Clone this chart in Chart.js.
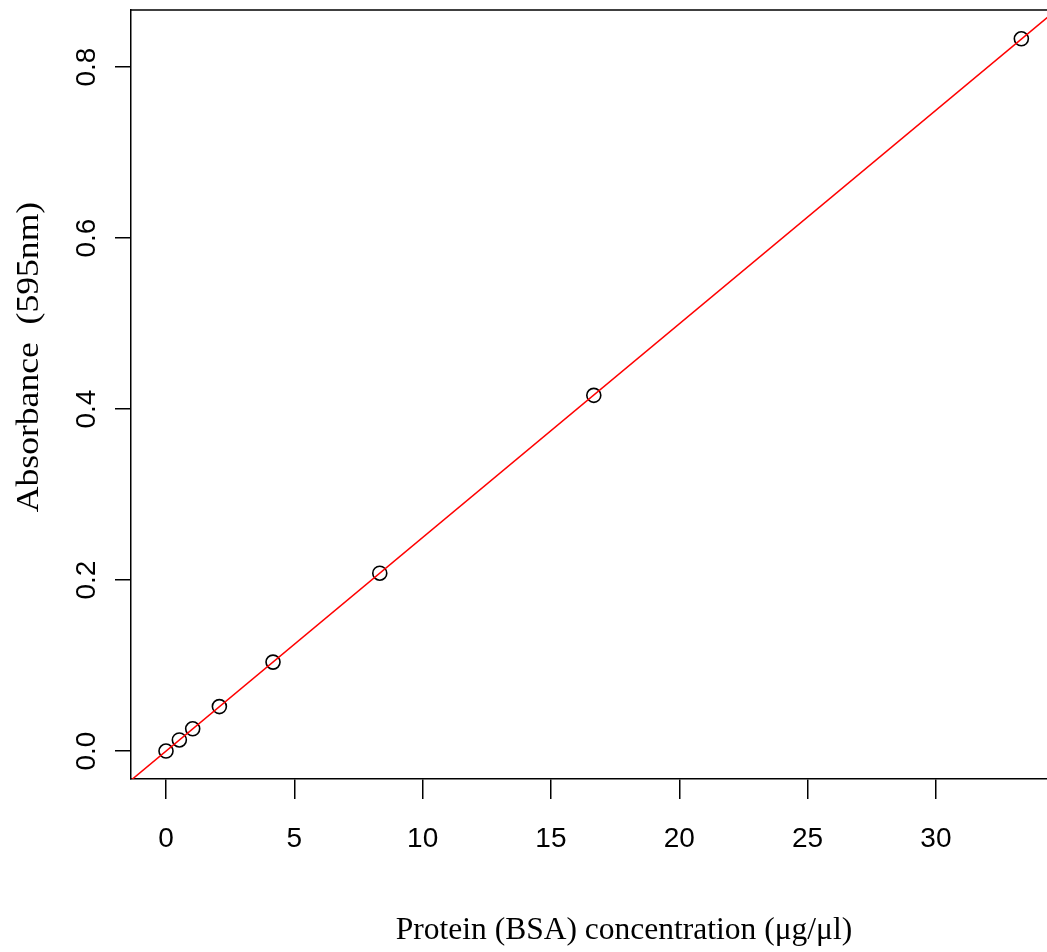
<!DOCTYPE html>
<html>
<head>
<meta charset="utf-8">
<script src="https://cdn.jsdelivr.net/npm/chart.js@4.4.1/dist/chart.umd.min.js"></script>
<style>
  body { margin: 0; background: #fff; }
  canvas { display: block; }
</style>
</head>
<body>
<canvas id="chart" width="1047" height="952"></canvas>
<script>
// BSA standard curve (serial dilution)
const concentration = [0, 0.52, 1.04, 2.08, 4.17, 8.33, 16.67, 33.33];
const absorbance = [0, 0.013, 0.026, 0.052, 0.104, 0.208, 0.416, 0.833];

const xTickValues = [0, 5, 10, 15, 20, 25, 30];
const yTickValues = [0, 0.2, 0.4, 0.6, 0.8];

const xTitle = "Protein (BSA) concentration (μg/μl)";
const yTitle = "Absorbance  (595nm)";

// least squares fit, like abline(lm(y ~ x))
function linearFit(xs, ys) {
  const n = xs.length;
  const mx = xs.reduce((a, b) => a + b, 0) / n;
  const my = ys.reduce((a, b) => a + b, 0) / n;
  let sxy = 0, sxx = 0;
  for (let i = 0; i < n; i++) {
    sxy += (xs[i] - mx) * (ys[i] - my);
    sxx += (xs[i] - mx) * (xs[i] - mx);
  }
  const slope = sxy / sxx;
  return { slope: slope, intercept: my - slope * mx };
}

const fit = linearFit(concentration, absorbance);
const fitLine = [-5, 40].map(x => ({ x: x, y: fit.intercept + fit.slope * x }));

// draws the top of the box plus all the texts (R style rotated y labels)
const frameAndText = {
  id: "frameAndText",
  afterDraw(chart) {
    const { ctx, chartArea: a, scales: { x, y } } = chart;
    ctx.save();
    ctx.strokeStyle = "#000";
    ctx.lineWidth = 1.5;
    ctx.beginPath();
    ctx.moveTo(a.left - 0.75, a.top);
    ctx.lineTo(a.right, a.top);
    ctx.stroke();

    ctx.fillStyle = "#000";
    ctx.font = '28px "Liberation Sans"';
    ctx.textAlign = "center";
    ctx.textBaseline = "alphabetic";
    xTickValues.forEach(v => {
      ctx.fillText(String(v), x.getPixelForValue(v), a.bottom + 68);
    });
    yTickValues.forEach(v => {
      ctx.save();
      ctx.translate(a.left - 36, y.getPixelForValue(v));
      ctx.rotate(-Math.PI / 2);
      ctx.fillText(v.toFixed(1), 0, 0);
      ctx.restore();
    });

    ctx.font = '31.5px "Liberation Serif"';
    ctx.fillText(xTitle, 624, 939);
    ctx.save();
    ctx.translate(38, 357);
    ctx.scale(1, 1.13);
    ctx.rotate(-Math.PI / 2);
    ctx.fillText(yTitle, 0, 0);
    ctx.restore();
    ctx.restore();
  }
};

const axisGrid = len => ({
  display: true,
  drawOnChartArea: false,
  drawTicks: true,
  tickLength: len,
  color: "#000",
  lineWidth: 1.5
});

const config = {
  type: "scatter",
  data: {
    datasets: [
      {
        label: "standards",
        data: concentration.map((c, i) => ({ x: c, y: absorbance[i] })),
        pointStyle: "circle",
        pointRadius: 7,
        pointHoverRadius: 7,
        pointBorderWidth: 1.6,
        pointBackgroundColor: "rgba(0,0,0,0)",
        pointBorderColor: "#000",
        order: 2
      },
      {
        type: "line",
        label: "fit",
        data: fitLine,
        borderColor: "#ff0000",
        borderWidth: 1.5,
        pointRadius: 0,
        fill: false,
        order: 1
      }
    ]
  },
  options: {
    responsive: false,
    animation: false,
    layout: { autoPadding: false, padding: { top: 10, left: 0, right: 0, bottom: 0 } },
    plugins: {
      legend: { display: false },
      tooltip: { enabled: false },
      title: { display: false }
    },
    scales: {
      x: {
        type: "linear",
        position: "bottom",
        min: -1.364,
        max: 34.33,
        afterBuildTicks: s => { s.ticks = xTickValues.map(v => ({ value: v })); },
        afterFit: s => { s.height = 952 - 779; },
        ticks: { display: false },
        grid: axisGrid(20),
        border: { display: true, color: "#000", width: 1.5 }
      },
      y: {
        type: "linear",
        position: "left",
        min: -0.0327,
        max: 0.8667,
        afterBuildTicks: s => { s.ticks = yTickValues.map(v => ({ value: v })); },
        afterFit: s => { s.width = 131; },
        ticks: { display: false },
        grid: axisGrid(16),
        border: { display: true, color: "#000", width: 1.5 }
      }
    }
  },
  plugins: [frameAndText]
};

new Chart(document.getElementById("chart"), config);
</script>
</body>
</html>
